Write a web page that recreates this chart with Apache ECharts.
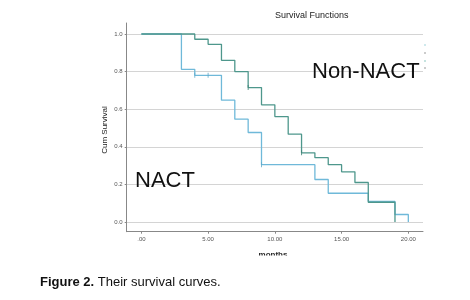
<!DOCTYPE html>
<html>
<head>
<meta charset="utf-8">
<script src="https://cdn.jsdelivr.net/npm/echarts@6/dist/echarts.min.js"></script>
<style>
html,body{margin:0;padding:0;background:#fff;}
#c{width:470px;height:300px;}
</style>
</head>
<body>
<div id="c"></div>
<script>
// Data
const nactTimes = [0, 3, 4, 6, 7, 8, 9, 13, 14, 17, 19, 20];
const nactSurv  = [1, 0.812, 0.78, 0.648, 0.547, 0.476, 0.305, 0.226, 0.153, 0.11, 0.04, 0];
const nonTimes  = [0, 4, 5, 6, 7, 8, 9, 10, 11, 12, 13, 14, 15, 16, 17, 19];
const nonSurv   = [1, 0.972, 0.945, 0.86, 0.80, 0.715, 0.623, 0.561, 0.467, 0.368, 0.342, 0.305, 0.267, 0.21, 0.105, 0];
const nactCensorT = [4, 5, 9];
const nactCensorS = [0.78, 0.78, 0.305];
const nonCensorT  = [8, 12];
const nonCensorS  = [0.715, 0.368];
const xTicks = [0, 5, 10, 15, 20];
const xTickLabels = ['.00', '5.00', '10.00', '15.00', '20.00'];
const yTicks = [0, 0.2, 0.4, 0.6, 0.8, 1.0];
const yTickLabels = ['0.0', '0.2', '0.4', '0.6', '0.8', '1.0'];

const zip = (a, b) => a.map((v, i) => [v, b[i]]);
const chart = echarts.init(document.getElementById('c'), null, {renderer: 'canvas'});
const labelFont = {fontFamily: 'Liberation Sans, Arial', fontSize: 6, color: '#555'};

chart.setOption({
  animation: false,
  backgroundColor: '#fff',
  grid: {left: 126.7, right: 47, top: 23, bottom: 68.3, containLabel: false},
  xAxis: {
    type: 'value', min: -1.1, max: 21.1,
    axisLine: {show: true, onZero: false, lineStyle: {color: '#888', width: 1}},
    axisTick: {show: true, length: 2, customValues: xTicks, lineStyle: {color: '#888'}},
    axisLabel: Object.assign({customValues: xTicks, margin: 5,
      formatter: v => xTickLabels[xTicks.indexOf(v)] || ''}, labelFont),
    splitLine: {show: false}
  },
  yAxis: {
    type: 'value', min: -0.0516, max: 1.0585,
    axisLine: {show: true, onZero: false, lineStyle: {color: '#888', width: 1}},
    axisTick: {show: true, length: 2, customValues: yTicks, lineStyle: {color: '#888'}},
    axisLabel: Object.assign({customValues: yTicks, margin: 4,
      formatter: v => { const i = yTicks.findIndex(t => Math.abs(t - v) < 1e-6); return i >= 0 ? yTickLabels[i] : ''; }}, labelFont),
    splitLine: {show: true, lineStyle: {color: '#d4d4d4', width: 1}}
  },
  series: [
    {type: 'line', step: 'end', data: zip(nonTimes, nonSurv), showSymbol: false, symbol: 'none',
     lineStyle: {color: '#4e978c', width: 1.3}, z: 3},
    {type: 'line', step: 'end', data: zip(nactTimes, nactSurv), showSymbol: false, symbol: 'none',
     lineStyle: {color: '#6fb9d9', width: 1.3}, z: 2},
    {type: 'scatter', data: zip(nactCensorT, nactCensorS), symbol: 'rect', symbolSize: [1, 5],
     itemStyle: {color: '#5fa9c9'}, z: 4},
    {type: 'scatter', data: zip(nonCensorT, nonCensorS), symbol: 'rect', symbolSize: [1, 5],
     itemStyle: {color: '#3f8276'}, z: 4}
  ],
  graphic: [
    {type: 'text', left: 275, top: 11, style: {text: 'Survival Functions', font: '9px "Liberation Sans", Arial', fill: '#222'}},
    {type: 'text', x: 105, y: 130, rotation: Math.PI / 2, style: {text: 'Cum Survival', font: '8px "Liberation Sans", Arial', fill: '#222', align: 'center', verticalAlign: 'middle'}},
    {type: 'text', x: 273, y: 255, style: {text: 'months', font: 'bold 8px "Liberation Sans", Arial', fill: '#222', align: 'center', verticalAlign: 'middle'}},
    {type: 'rect', shape: {x: 240, y: 255.5, width: 70, height: 8}, style: {fill: '#fff'}, z: 100},
    {type: 'text', left: 135, top: 170, style: {text: 'NACT', font: '22px "Liberation Sans", Arial', fill: '#111'}, z: 50},
    {type: 'text', left: 312, top: 61, style: {text: 'Non-NACT', font: '22px "Liberation Sans", Arial', fill: '#111'}, z: 50},
    {type: 'rect', shape: {x: 424, y: 44.5, width: 2, height: 1}, style: {fill: '#9fd3dc'}},
    {type: 'rect', shape: {x: 424, y: 52.5, width: 2, height: 1}, style: {fill: '#999'}},
    {type: 'rect', shape: {x: 424, y: 60.5, width: 2, height: 1}, style: {fill: '#8cc7c0'}},
    {type: 'rect', shape: {x: 424, y: 67.5, width: 2, height: 1}, style: {fill: '#999'}},
    {type: 'text', left: 40, top: 276, style: {
      rich: {b: {font: 'bold 13px "Liberation Sans", Arial', fill: '#111'}, r: {font: '13px "Liberation Sans", Arial', fill: '#111'}},
      text: '{b|Figure 2.}{r| Their survival curves.}'}}
  ]
});
</script>
</body>
</html>
